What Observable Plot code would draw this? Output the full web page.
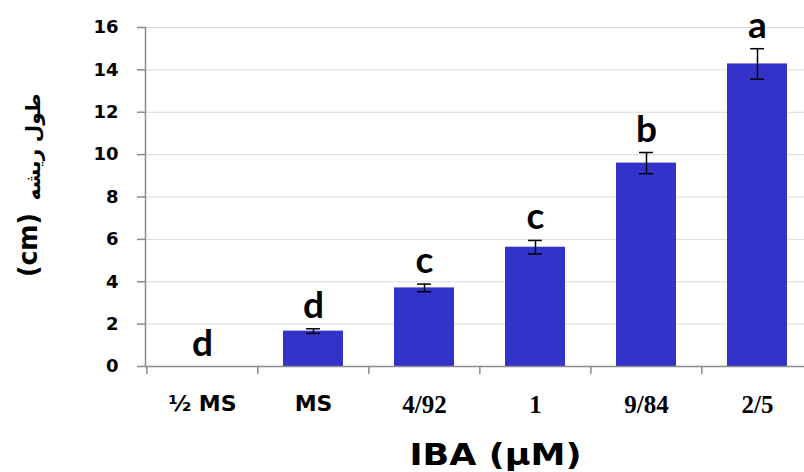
<!DOCTYPE html>
<html><head><meta charset="utf-8">
<script src="https://cdn.jsdelivr.net/npm/d3@7"></script>
<script src="https://cdn.jsdelivr.net/npm/@observablehq/plot@0.6"></script>
<style>body{margin:0;background:#fff}</style>
</head><body><div id="chart"></div>
<script>
const categories = ["½ MS", "MS", "4/92", "1", "9/84", "2/5"];
const means = [0, 1.67, 3.71, 5.63, 9.6, 14.28];
const errors = [0, 0.11, 0.18, 0.32, 0.5, 0.72];
const letters = ["d", "d", "c", "c", "b", "a"];
const yTicks = [0, 2, 4, 6, 8, 10, 12, 14, 16];
const sansLabels = ["½ MS", "MS"];
const serifLabels = ["4/92", "1", "9/84", "2/5"];
const xTitle = "IBA (μM)";
const yTitleUnit = "(cm)";
const yTitleText = "طول ریشه";

const data = categories.map((c, i) => ({
  cat: c, mean: means[i], se: errors[i],
  lo: means[i] - errors[i], hi: means[i] + errors[i], letter: letters[i]
}));
const withErr = data.filter(d => d.se > 0);

const W = 804, H = 472, mL = 145, mR = -9, mT = 27, mB = 106;
const padIn = 0.46;
const step = (W - mL - mR) / categories.length;
const barW = step * (1 - padIn);
const capW = 14;
const capInset = (barW - capW) / 2;
const axisGray = "#8c8c8c";

const chart = Plot.plot({
  width: W, height: H,
  marginLeft: mL, marginRight: mR, marginTop: mT, marginBottom: mB,
  style: {background: "white", overflow: "hidden"},
  x: {domain: categories, paddingInner: padIn, paddingOuter: padIn / 2, axis: null},
  y: {domain: [0, 16], axis: null},
  marks: [
    Plot.gridY(yTicks.slice(1), {stroke: "#dcdcdc", strokeOpacity: 1}),
    Plot.barY(data, {x: "cat", y: "mean", fill: "#3333cc"}),
    Plot.ruleX(withErr, {x: "cat", y1: "lo", y2: "hi", stroke: "black", strokeWidth: 1.5}),
    Plot.tickY(withErr, {x: "cat", y: "lo", insetLeft: capInset, insetRight: capInset, stroke: "black", strokeWidth: 1.5}),
    Plot.tickY(withErr, {x: "cat", y: "hi", insetLeft: capInset, insetRight: capInset, stroke: "black", strokeWidth: 1.5}),
    Plot.ruleY([0], {stroke: axisGray, strokeWidth: 1.5}),
    Plot.frame({anchor: "left", stroke: axisGray, strokeWidth: 1.5}),
    Plot.ruleX(categories, {x: d => d, y1: 0, y2: 0, insetBottom: -8, dx: -step / 2, stroke: axisGray, strokeWidth: 1.5}),
    Plot.axisY(yTicks, {anchor: "left", tickSize: 8, tickPadding: 19, stroke: axisGray, strokeWidth: 1.5, fill: "black",
      fontSize: 18, fontWeight: "bold", fontFamily: "DejaVu Sans", label: null}),
    Plot.axisX(sansLabels, {anchor: "bottom", tickSize: 0, tickPadding: 29, fill: "black",
      fontSize: 22, fontWeight: "bold", fontFamily: "DejaVu Sans", label: null}),
    Plot.axisX(serifLabels, {anchor: "bottom", tickSize: 0, tickPadding: 29, fill: "black",
      fontSize: 25, fontWeight: "bold", fontFamily: "Liberation Serif", label: null}),
    Plot.text(data, {x: "cat", y: "hi", text: "letter", dy: -11, lineAnchor: "bottom",
      fontSize: 37, fontWeight: "bold", fontFamily: "Lato", fill: "black"}),
    Plot.text([xTitle], {text: d => d, frameAnchor: "bottom", textAnchor: "middle", dx: 16, dy: 98, lineAnchor: "bottom",
      fontSize: 30, fontWeight: "bold", fontFamily: "DejaVu Sans", fill: "black", className: "xtitle"}),
    Plot.text([yTitleUnit], {text: d => d, frameAnchor: "left", textAnchor: "middle", rotate: -90, dx: -117, dy: 48,
      fontSize: 27, fontWeight: "bold", fontFamily: "DejaVu Sans", fill: "black", className: "yunit"}),
    Plot.text([yTitleText], {text: d => d, frameAnchor: "left", textAnchor: "middle", rotate: -90, dx: -112, dy: -50,
      fontSize: 20, fontWeight: "bold", fontFamily: "DejaVu Sans", fill: "black", className: "ytext"})
  ]
});
// stretch titles along their length as in the reference
d3.select(chart).selectAll(".xtitle text").attr("textLength", 172).attr("lengthAdjust", "spacingAndGlyphs");
d3.select(chart).selectAll(".yunit text").attr("textLength", 64).attr("lengthAdjust", "spacingAndGlyphs");
document.getElementById("chart").appendChild(chart);
</script>
</body></html>
